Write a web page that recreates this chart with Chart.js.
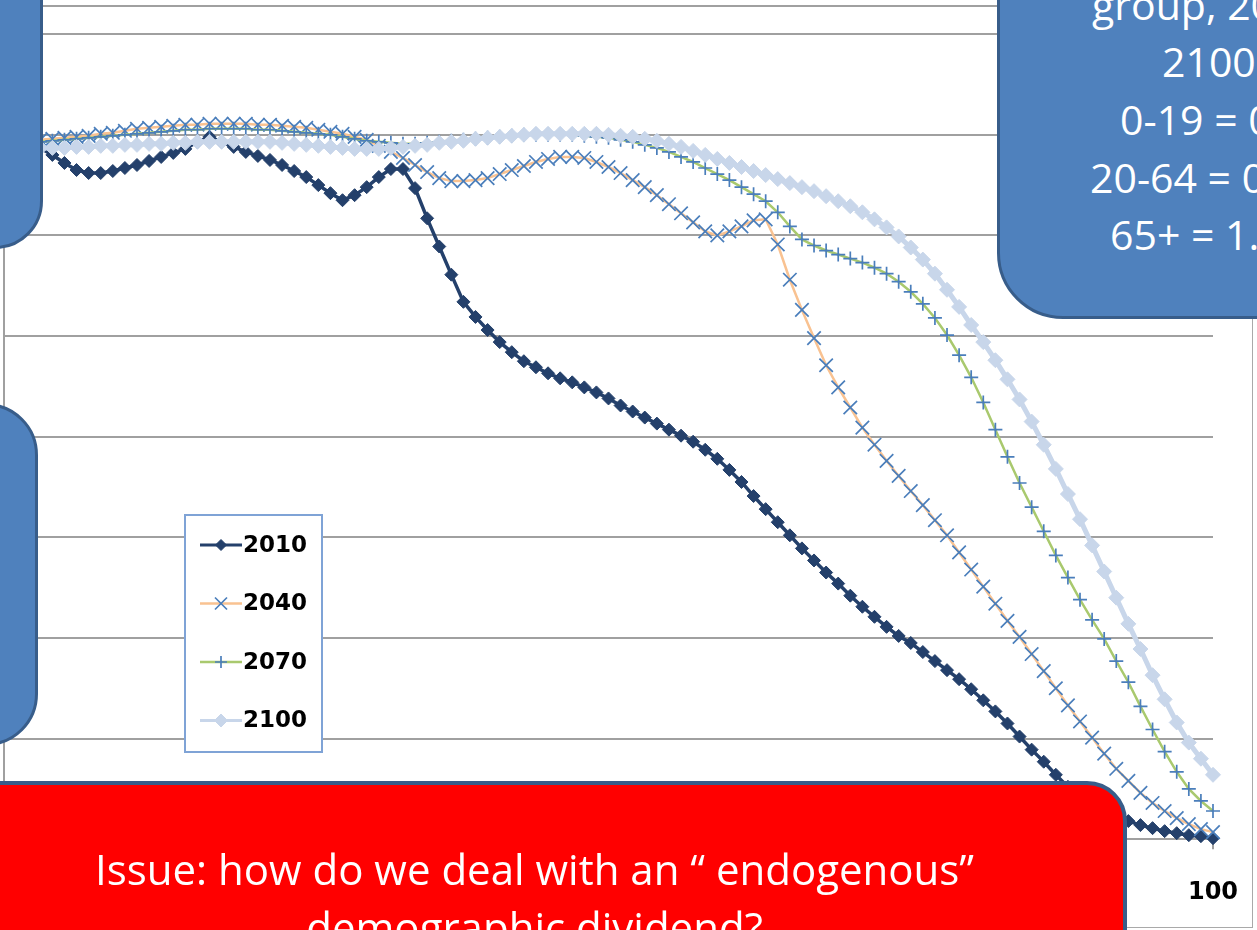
<!DOCTYPE html>
<html>
<head>
<meta charset="utf-8">
<script src="https://cdn.jsdelivr.net/npm/chart.js@4.4.1/dist/chart.umd.min.js"></script>
<style>
  html, body { margin: 0; padding: 0; background: #ffffff; }
  #stage { position: relative; width: 1257px; height: 930px; overflow: hidden; background: #ffffff; }
  #frame { position: absolute; left: -10px; top: -10px; width: 1261px; height: 936px; border: 1px solid #a9a9a9; }
  #chart { position: absolute; left: -60px; top: -20px; }
  .note { position: absolute; box-sizing: border-box; background: #4f81bd; border: 3.5px solid #385d8a; }
  #noteTL { left: -300px; top: -300px; width: 343px; height: 549px; border-bottom-right-radius: 48px; }
  #noteML { left: -300px; top: 403px; width: 338px; height: 343px; border-top-right-radius: 52px; border-bottom-right-radius: 52px; }
  #noteTR { left: 997px; top: -300px; width: 600px; height: 619px; border-bottom-left-radius: 66px; }
  .noteLine { position: absolute; white-space: nowrap; color: #ffffff; font-family: "Open Sans", sans-serif; font-size: 41px; line-height: 58px; }
  #issue { position: absolute; box-sizing: border-box; left: -58px; top: 781px; width: 1185px; height: 300px;
           background: #ff0000; border: 4px solid #385d8a; border-top-right-radius: 40px; }
  #issueText { position: absolute; left: -58px; top: 840px; width: 1185px; text-align: center; color: #ffffff;
               font-family: "Open Sans", sans-serif; font-size: 42px; line-height: 58px; }
</style>
</head>
<body>
<div id="stage">
  <div id="frame"></div>
  <canvas id="chart" width="1400" height="1020"></canvas>
  <div class="note" id="noteTL"></div>
  <div class="note" id="noteML"></div>
  <div class="note" id="noteTR"></div>
  <div class="noteLine" style="left:1092px; top:-25px;">group, 20</div>
  <div class="noteLine" style="left:1162px; top:32px;">2100</div>
  <div class="noteLine" style="left:1120px; top:90px;">0-19 = 0</div>
  <div class="noteLine" style="left:1090px; top:148px;">20-64 = 0</div>
  <div class="noteLine" style="left:1110px; top:205px;">65+ = 1.</div>
  <div id="issue"></div>
  <div id="issueText">Issue: how do we deal with an “ endogenous”<br>demographic dividend?</div>
</div>
<script>
// Single-year ages on the category axis
const ages = Array.from({ length: 101 }, (_, i) => String(i));

// Population by single year of age, one array per year
const pop2010 = [
  695, 692, 689, 687, 680, 672, 665, 662, 662, 664,
  667, 670, 674, 678, 682, 686, 693, 698, 693, 688,
  683, 679, 675, 670, 664, 658, 650, 642, 635, 640,
  648, 658, 666, 666, 647, 617, 589, 561, 534, 519,
  506, 494, 484, 475, 469, 463, 458, 454, 449, 444,
  438, 431, 425, 419, 413, 407, 401, 395, 387, 378,
  367, 355, 341, 328, 315, 302, 289, 277, 265, 254,
  242, 231, 221, 211, 202, 195, 186, 177, 168, 159,
  149, 138, 127, 115, 102, 89, 77, 64, 52, 41,
  33, 27, 22, 18, 14, 11, 8, 6, 4, 3,
  1
];
const pop2040 = [
  695, 695, 695, 695, 696, 697, 698, 699, 701, 702,
  704, 706, 707, 708, 709, 710, 710, 711, 711, 711,
  711, 710, 710, 709, 708, 707, 705, 703, 701, 698,
  695, 689, 683, 677, 670, 663, 657, 654, 654, 655,
  657, 661, 665, 669, 673, 676, 678, 678, 677, 673,
  668, 662, 655, 648, 640, 631, 622, 613, 604, 600,
  604, 609, 615, 616, 591, 556, 526, 498, 471, 449,
  429, 409, 392, 376, 361, 346, 332, 317, 302, 285,
  268, 251, 234, 217, 201, 184, 167, 150, 133, 117,
  101, 85, 70, 58, 46, 36, 28, 21, 15, 10,
  7
];
const pop2070 = [
  693, 693, 693, 693, 694, 695, 696, 697, 698, 699,
  700, 701, 702, 703, 704, 705, 705, 706, 706, 706,
  706, 705, 705, 704, 703, 702, 701, 700, 698, 696,
  694, 693, 692, 691, 691, 692, 693, 694, 695, 696,
  697, 698, 699, 700, 700, 700, 700, 700, 699, 698,
  697, 695, 693, 690, 687, 683, 678, 673, 667, 661,
  655, 648, 641, 634, 623, 609, 596, 590, 585, 581,
  577, 573, 568, 562, 554, 544, 532, 518, 501, 481,
  459, 434, 407, 380, 354, 330, 306, 282, 260, 238,
  218, 199, 177, 156, 132, 109, 87, 67, 50, 38,
  28
];
const pop2100 = [
  687, 687, 687, 687, 687, 687, 688, 688, 689, 689,
  690, 690, 691, 691, 692, 692, 693, 693, 693, 693,
  693, 693, 693, 692, 691, 690, 689, 688, 687, 686,
  686, 686, 687, 688, 689, 690, 692, 693, 694, 696,
  697, 698, 699, 700, 701, 701, 701, 701, 701, 701,
  700, 699, 698, 696, 694, 691, 688, 684, 680, 676,
  672, 668, 664, 660, 656, 652, 648, 644, 639, 634,
  629, 623, 616, 608, 599, 588, 576, 562, 546, 529,
  511, 494, 476, 457, 437, 415, 392, 368, 343, 318,
  292, 266, 240, 214, 189, 163, 139, 116, 96, 80,
  64
];

const seriesNames = ['2010', '2040', '2070', '2100'];
const yTicks = [0, 100, 200, 300, 400, 500, 600, 700, 800, 828];
const xLabelEvery = 10;

const GRID = '#a0a0a0';

// Framed legend drawn inside the plot, one row per series
const boxLegend = {
  id: 'boxLegend',
  afterDatasetsDraw(chart) {
    const ctx = chart.ctx;
    const left = chart.chartArea.left + 181;
    const top = chart.chartArea.top + 509, w = 137, h = 237;
    ctx.save();
    ctx.fillStyle = '#ffffff';
    ctx.fillRect(left, top, w, h);
    ctx.strokeStyle = '#7fa3d6';
    ctx.lineWidth = 2;
    ctx.strokeRect(left, top, w, h);
    chart.data.datasets.forEach((ds, i) => {
      const y = top + 30 + i * 58.5;
      const x0 = left + 15, x1 = left + 57;
      ctx.beginPath();
      ctx.strokeStyle = ds.borderColor;
      ctx.lineWidth = Math.min(ds.borderWidth, 3);
      ctx.moveTo(x0, y);
      ctx.lineTo(x1, y);
      ctx.stroke();
      ctx.fillStyle = ds.pointBackgroundColor;
      ctx.strokeStyle = ds.pointBorderColor;
      ctx.lineWidth = ds.pointBorderWidth;
      Chart.helpers.drawPoint(ctx, {
        pointStyle: ds.pointStyle, radius: ds.pointRadius - 1, rotation: 0, borderWidth: ds.pointBorderWidth
      }, (x0 + x1) / 2, y);
      ctx.fillStyle = '#000000';
      ctx.font = 'bold 23px "DejaVu Sans"';
      ctx.textBaseline = 'middle';
      ctx.textAlign = 'left';
      ctx.fillText(ds.label, x1 + 1, y + 1);
    });
    ctx.restore();
  }
};

new Chart(document.getElementById('chart'), {
  type: 'line',
  data: {
    labels: ages,
    datasets: [
      { label: seriesNames[0], data: pop2010, order: 4, clip: false,
        borderColor: '#24406b', borderWidth: 3.5,
        pointStyle: 'rectRot', pointRadius: 6.5, pointBorderWidth: 1,
        pointBackgroundColor: '#24406b', pointBorderColor: '#24406b' },
      { label: seriesNames[1], data: pop2040, order: 3, clip: false,
        borderColor: '#f9c291', borderWidth: 2.5,
        pointStyle: 'crossRot', pointRadius: 9.5, pointBorderWidth: 1.7,
        pointBackgroundColor: '#4a7ebb', pointBorderColor: '#4a7ebb' },
      { label: seriesNames[2], data: pop2070, order: 2, clip: false,
        borderColor: '#a9c96e', borderWidth: 2.5,
        pointStyle: 'cross', pointRadius: 7, pointBorderWidth: 1.7,
        pointBackgroundColor: '#4a7ebb', pointBorderColor: '#4a7ebb' },
      { label: seriesNames[3], data: pop2100, order: 1, clip: false,
        borderColor: '#c8d6ea', borderWidth: 5,
        pointStyle: 'rectRot', pointRadius: 7.5, pointBorderWidth: 1,
        pointBackgroundColor: '#c8d6ea', pointBorderColor: '#c8d6ea' }
    ]
  },
  options: {
    responsive: false,
    animation: false,
    devicePixelRatio: 1,
    layout: { autoPadding: false, padding: { left: 64, right: 127, top: 26, bottom: 64 } },
    plugins: { legend: { display: false }, tooltip: { enabled: false } },
    elements: { line: { tension: 0 } },
    scales: {
      x: {
        type: 'category',
        offset: false,
        grid: {
          drawOnChartArea: false, drawTicks: true, tickLength: 10, lineWidth: 2,
          color: (c) => (c.index % xLabelEvery === 0 ? GRID : 'rgba(0,0,0,0)')
        },
        border: { display: true, color: GRID, width: 2 },
        ticks: {
          autoSkip: false, maxRotation: 0, minRotation: 0, padding: 29, color: '#000000',
          font: { family: 'DejaVu Sans', size: 24, weight: 'bold' },
          callback: function (v, i) { return i % xLabelEvery === 0 ? this.getLabelForValue(v) : ''; }
        }
      },
      y: {
        min: 0,
        max: yTicks[yTicks.length - 1],
        afterBuildTicks: (scale) => { scale.ticks = yTicks.map((v) => ({ value: v })); },
        grid: { color: GRID, lineWidth: 2, drawTicks: false },
        border: { display: true, color: GRID, width: 2 },
        ticks: { display: false }
      }
    }
  },
  plugins: [boxLegend]
});
</script>
</body>
</html>
